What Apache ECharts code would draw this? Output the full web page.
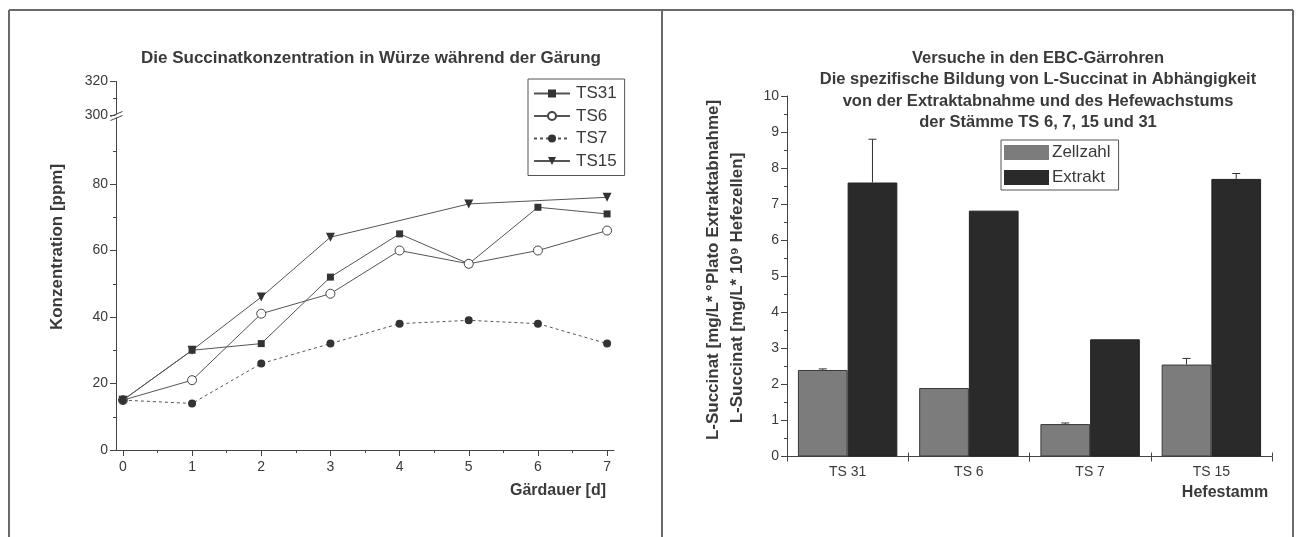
<!DOCTYPE html>
<html>
<head>
<meta charset="utf-8">
<script src="https://cdn.jsdelivr.net/npm/echarts@6/dist/echarts.min.js"></script>
<style>
  html, body { margin: 0; padding: 0; background: #ffffff; }
  #chart { width: 1298px; height: 537px; }
</style>
</head>
<body>
<div id="chart"></div>
<script>
// Succinate concentration in wort during fermentation (ppm per day)
const days = [0, 1, 2, 3, 4, 5, 6, 7];
const ts31 = [15, 30, 32, 52, 65, 56, 73, 71];
const ts6 = [15, 21, 41, 47, 60, 56, 60, 66];
const ts7 = [15, 14, 26, 32, 38, 39, 38, 32];
const ts15 = [15, 30, 46, 64, null, 74, null, 76];
const lineNames = ['TS31', 'TS6', 'TS7', 'TS15'];

// Lower and upper segments of the broken concentration axis
const lowerTicks = [0, 20, 40, 60, 80];
const lowerMinor = [10, 30, 50, 70, 90];
const upperTicks = [300, 320];
const upperMinor = [310];
const dayMinor = [0.5, 1.5, 2.5, 3.5, 4.5, 5.5, 6.5];

// Specific L-succinate formation per yeast strain
const strains = ['TS 31', 'TS 6', 'TS 7', 'TS 15'];
const zellzahl = [2.4, 1.9, 0.9, 2.55];
const zellzahlErr = [0.03, 0, 0.03, 0.17];
const extrakt = [7.6, 6.82, 3.25, 7.7];
const extraktErr = [1.2, 0, 0, 0.15];

const FONT = '"Liberation Sans", Arial, sans-serif';
const TXT = '#3a3a3a';
const AX = '#444';
const BAR_GAP = 0.18;

const chart = echarts.init(document.getElementById('chart'), null, { renderer: 'canvas' });

function pairs(ys) { return days.map((d, i) => [d, ys[i]]); }

const axisLine = { show: true, onZero: false, lineStyle: { color: AX, width: 1 } };
const noLine = { show: false, onZero: false };
const labelStyle = { color: TXT, fontFamily: FONT, fontSize: 14 };

const errData = [];
strains.forEach((s, i) => {
  if (zellzahlErr[i] > 0) errData.push([i, zellzahl[i], zellzahlErr[i], 0]);
  if (extraktErr[i] > 0) errData.push([i, extrakt[i], extraktErr[i], 1]);
});

const option = {
  animation: false,
  backgroundColor: '#ffffff',
  grid: [
    { left: 116, top: 117.5, width: 498, height: 332.5 },   // lower segment 0-100
    { left: 116, top: 81.5, width: 498, height: 33.5 },     // upper segment 300-320
    { left: 787, top: 96, width: 485, height: 360.5 }       // bar chart
  ],
  xAxis: [
    { type: 'value', gridIndex: 0, min: -0.1, max: 7.1, position: 'bottom',
      axisLine, splitLine: { show: false },
      axisTick: { show: true, length: 6, lineStyle: { color: AX }, customValues: days },
      axisLabel: Object.assign({ margin: 10, customValues: days }, labelStyle) },
    { type: 'value', gridIndex: 0, min: -0.1, max: 7.1, position: 'bottom', offset: 0,
      axisLine: noLine, splitLine: { show: false }, axisLabel: { show: false },
      axisTick: { show: true, length: 3, lineStyle: { color: AX }, customValues: dayMinor } },
    { type: 'value', gridIndex: 1, min: -0.1, max: 7.1, position: 'bottom',
      axisLine: noLine, axisTick: { show: false }, axisLabel: { show: false }, splitLine: { show: false } },
    { type: 'category', gridIndex: 2, data: strains, position: 'bottom',
      axisLine, boundaryGap: true,
      axisTick: { show: true, length: 5, alignWithLabel: false, lineStyle: { color: AX } },
      axisLabel: Object.assign({ margin: 9 }, labelStyle) },
    { type: 'category', gridIndex: 2, data: strains, position: 'bottom', offset: 0,
      axisLine: noLine, axisLabel: { show: false },
      axisTick: { show: true, inside: true, length: 4, alignWithLabel: false, lineStyle: { color: AX } } }
  ],
  yAxis: [
    { type: 'value', gridIndex: 0, min: 0, max: 100, position: 'left',
      axisLine, splitLine: { show: false },
      axisTick: { show: true, length: 6, lineStyle: { color: AX }, customValues: lowerTicks },
      axisLabel: Object.assign({ margin: 8, customValues: lowerTicks }, labelStyle) },
    { type: 'value', gridIndex: 0, min: 0, max: 100, position: 'left', offset: 0,
      axisLine: noLine, splitLine: { show: false }, axisLabel: { show: false },
      axisTick: { show: true, length: 3, lineStyle: { color: AX }, customValues: lowerMinor } },
    { type: 'value', gridIndex: 1, min: 300, max: 320, position: 'left',
      axisLine, splitLine: { show: false },
      axisTick: { show: true, length: 6, lineStyle: { color: AX }, customValues: upperTicks },
      axisLabel: Object.assign({ margin: 8, customValues: upperTicks }, labelStyle) },
    { type: 'value', gridIndex: 1, min: 300, max: 320, position: 'left', offset: 0,
      axisLine: noLine, splitLine: { show: false }, axisLabel: { show: false },
      axisTick: { show: true, length: 3, lineStyle: { color: AX }, customValues: upperMinor } },
    { type: 'value', gridIndex: 2, min: 0, max: 10, interval: 1, position: 'left',
      axisLine, splitLine: { show: false },
      axisTick: { show: true, length: 6, lineStyle: { color: AX } },
      minorTick: { show: true, splitNumber: 2, length: 3, lineStyle: { color: AX } },
      axisLabel: Object.assign({ margin: 8 }, labelStyle) }
  ],
  legend: [
    { data: lineNames, orient: 'vertical', left: 528, top: 79,
      padding: [6, 8, 6, 5], itemGap: 5.5, itemWidth: 36, itemHeight: 10,
      borderColor: '#555', borderWidth: 1, borderRadius: 0,
      textStyle: { color: TXT, fontFamily: FONT, fontSize: 17, lineHeight: 16, padding: [0, 0, 0, 1] } },
    { data: ['Zellzahl', 'Extrakt'], orient: 'vertical', left: 1001, top: 140,
      padding: [4, 8, 4, 3], itemGap: 8, itemWidth: 45, itemHeight: 15, icon: 'rect',
      borderColor: '#555', borderWidth: 1, borderRadius: 0,
      itemStyle: { borderWidth: 0 },
      textStyle: { color: TXT, fontFamily: FONT, fontSize: 17, lineHeight: 16, padding: [0, 0, 0, -2] } }
  ],
  series: [
    { name: 'TS31', type: 'line', xAxisIndex: 0, yAxisIndex: 0, data: pairs(ts31),
      symbol: 'rect', symbolSize: 7, color: '#333',
      lineStyle: { color: '#555', width: 1 }, itemStyle: { color: '#333' } },
    { name: 'TS6', type: 'line', xAxisIndex: 0, yAxisIndex: 0, data: pairs(ts6),
      symbol: 'circle', symbolSize: 9, color: '#444',
      lineStyle: { color: '#555', width: 1 },
      itemStyle: { color: '#ffffff', borderColor: '#444', borderWidth: 1 } },
    { name: 'TS7', type: 'line', xAxisIndex: 0, yAxisIndex: 0, data: pairs(ts7),
      symbol: 'circle', symbolSize: 8, color: '#333',
      lineStyle: { color: '#555', width: 1, type: [3, 3] }, itemStyle: { color: '#333' } },
    { name: 'TS15', type: 'line', xAxisIndex: 0, yAxisIndex: 0, data: pairs(ts15),
      symbol: 'triangle', symbolRotate: 180, symbolSize: 9, connectNulls: true, color: '#333',
      lineStyle: { color: '#555', width: 1 }, itemStyle: { color: '#333' } },
    { name: 'Zellzahl', type: 'bar', xAxisIndex: 3, yAxisIndex: 4, data: zellzahl,
      barGap: '0%', barCategoryGap: (BAR_GAP * 100) + '%',
      itemStyle: { color: '#7c7c7c', borderColor: '#3a3a3a', borderWidth: 1 } },
    { name: 'Extrakt', type: 'bar', xAxisIndex: 3, yAxisIndex: 4, data: extrakt,
      barGap: '0%', barCategoryGap: (BAR_GAP * 100) + '%',
      itemStyle: { color: '#2a2a2a', borderColor: '#222', borderWidth: 1 } },
    { name: 'err', type: 'custom', xAxisIndex: 3, yAxisIndex: 4, data: errData, z: 5,
      renderItem(params, api) {
        const ci = api.value(0), v = api.value(1), e = api.value(2), k = api.value(3);
        const band = api.size([1, 0])[0];
        const w = band * (1 - BAR_GAP) / 2;
        const base = api.coord([ci, v]);
        const cx = base[0] + (k === 0 ? -w / 2 : w / 2);
        const top = api.coord([ci, v + e])[1];
        const st = { stroke: '#333', lineWidth: 1 };
        return { type: 'group', children: [
          { type: 'line', shape: { x1: cx, y1: base[1], x2: cx, y2: top }, style: st },
          { type: 'line', shape: { x1: cx - 4, y1: top, x2: cx + 4, y2: top }, style: st }
        ] };
      } }
  ]
};

chart.setOption(option);

// Panel frames, titles, axis names and the axis-break marks
const brk = chart.convertToPixel({ xAxisIndex: 0, yAxisIndex: 0 }, [-0.1, 100]);
const bx = Math.round(brk[0]) + 0.5, by = brk[1];
const frame = { stroke: '#6a6a6a', lineWidth: 2 };
function txt(x, y, text, size, opts) {
  return Object.assign({ type: 'text', x, y, z: 10,
    style: { text, fill: TXT, font: 'bold ' + size + 'px ' + FONT, align: 'center', verticalAlign: 'middle' } }, opts || {});
}
const graphics = [
  { type: 'line', shape: { x1: 9, y1: 10, x2: 1293, y2: 10 }, style: frame },
  { type: 'line', shape: { x1: 9, y1: 10, x2: 9, y2: 537 }, style: frame },
  { type: 'line', shape: { x1: 662, y1: 10, x2: 662, y2: 537 }, style: frame },
  { type: 'line', shape: { x1: 1293, y1: 10, x2: 1293, y2: 537 }, style: frame },

  { type: 'rect', shape: { x: bx - 1, y: by - 3, width: 3, height: 3 }, style: { fill: '#fff' }, z: 20 },
  { type: 'line', shape: { x1: bx - 6, y1: by - 1, x2: bx + 6, y2: by - 6 }, style: { stroke: AX, lineWidth: 1 }, z: 21 },
  { type: 'line', shape: { x1: bx - 6, y1: by + 3, x2: bx + 6, y2: by - 2 }, style: { stroke: AX, lineWidth: 1 }, z: 21 },

  txt(371, 58, 'Die Succinatkonzentration in Würze während der Gärung', 17),
  txt(57, 247, 'Konzentration [ppm]', 17, { rotation: Math.PI / 2 }),
  txt(558, 491, 'Gärdauer [d]', 16),

  txt(1038, 58, 'Versuche in den EBC-Gärrohren', 16.5),
  txt(1038, 79.5, 'Die spezifische Bildung von L-Succinat in Abhängigkeit', 16.5),
  txt(1038, 101, 'von der Extraktabnahme und des Hefewachstums', 16.5),
  txt(1038, 122.5, 'der Stämme TS 6, 7, 15 und 31', 16.5),
  txt(713, 270, 'L-Succinat [mg/L* °Plato Extraktabnahme]', 17, { rotation: Math.PI / 2 }),
  txt(737, 288, 'L-Succinat [mg/L* 10⁹ Hefezellen]', 17, { rotation: Math.PI / 2 }),
  txt(1225, 493, 'Hefestamm', 16)
];
chart.setOption({ graphic: graphics });
</script>
</body>
</html>
